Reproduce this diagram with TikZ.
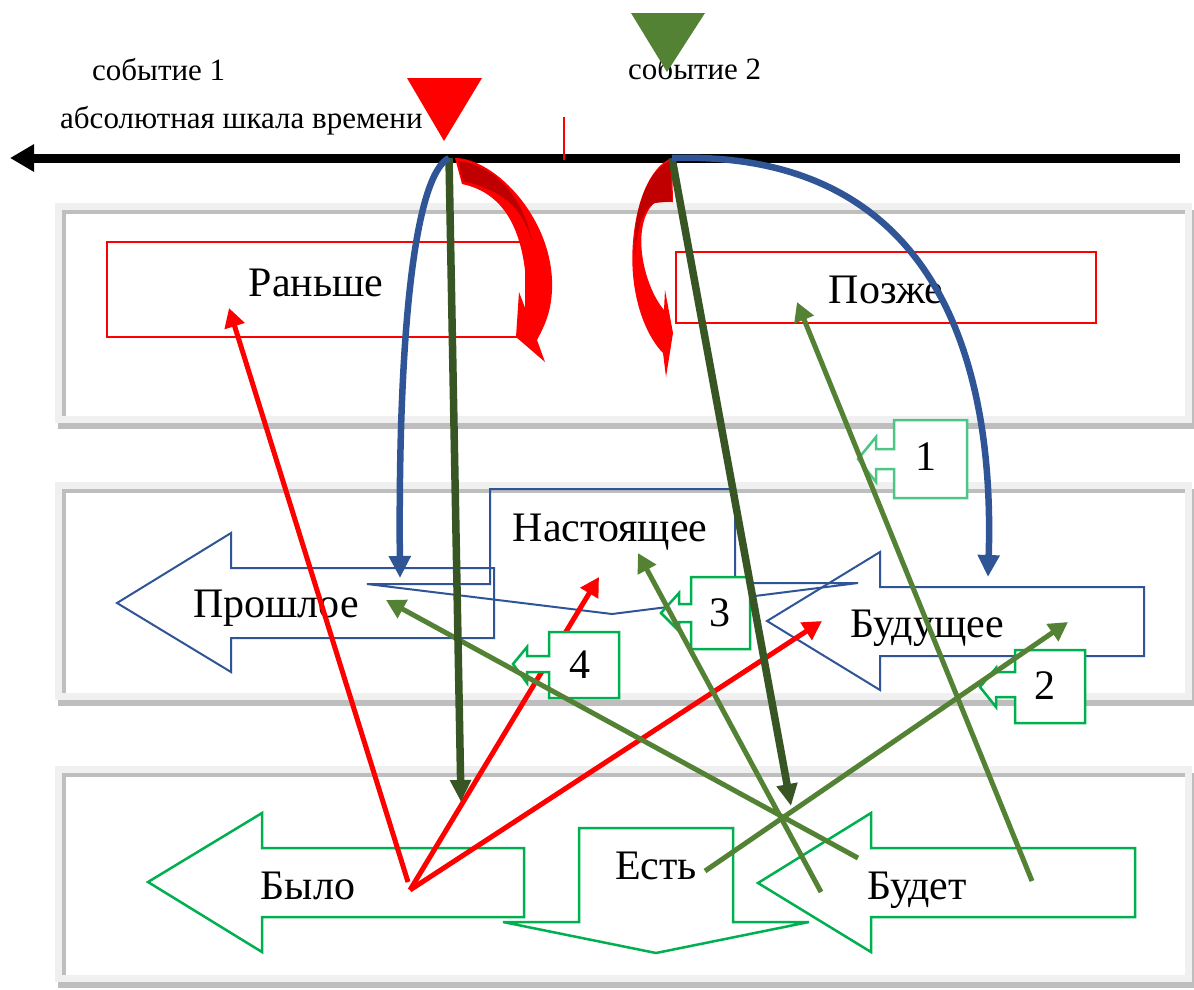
\documentclass[tikz,border=0pt]{standalone}
\usepackage{fontspec}
\setmainfont{Liberation Serif}
\usetikzlibrary{arrows.meta}

\definecolor{axisblue}{HTML}{2F5597}
\definecolor{leafdark}{HTML}{375623}
\definecolor{leaf}{HTML}{548235}
\definecolor{shapegreen}{HTML}{00B050}
\definecolor{calloutlight}{HTML}{4CC585}
\definecolor{deepred}{HTML}{C00000}
\definecolor{panellight}{HTML}{F0F0F0}
\definecolor{paneldark}{HTML}{BEBEBE}

% framed band: #1 = top edge, #2 = bottom edge
\newcommand\timepanel[2]{%
  \fill[paneldark]  (58,#1+7)  rectangle (1195,#2+6);
  \fill[panellight] (55,#1)    rectangle (1192,#2);
  \fill[paneldark]  (62,#1+7)  rectangle (1185,#2-7);
  \fill[white]      (66,#1+11) rectangle (1185,#2-7);
}

\tikzset{
  bigtext/.style={font=\fontsize{42}{50}\selectfont, inner sep=0pt, anchor=base},
  smalltext/.style={font=\fontsize{31}{37}\selectfont, inner sep=0pt, anchor=base west},
  outlineblue/.style={draw=axisblue, line width=2pt, line join=miter},
  outlinegreen/.style={draw=shapegreen, line width=2.5pt, line join=miter},
  framebox/.style={draw=red, line width=2.5pt},
  callout/.style={draw=shapegreen, fill=white, line width=2.5pt, line join=miter},
  redlink/.style={red, line width=5pt, -{Triangle[length=19pt,width=20pt]}},
  leaflink/.style={leaf, line width=5pt, -{Triangle[length=19pt,width=20pt]}},
  darklink/.style={leafdark, line width=7.5pt, -{Triangle[length=22pt,width=20pt]}},
  bluelink/.style={axisblue, line width=6.5pt, -{Triangle[length=22pt,width=21pt]}},
}

\begin{document}
\begin{tikzpicture}[x=1pt,y=-1pt]
\useasboundingbox (0,0) rectangle (1194,989);

% three framed bands
\timepanel{203}{423}
\timepanel{482}{700}
\timepanel{766}{982}

% headings and the time axis
\node[smalltext] (lab1) at (92,80) {событие 1};
\node[smalltext] (lab2) at (628,79) {событие 2};
\node[smalltext] (labaxis) at (60,128) {абсолютная шкала времени};

\coordinate (axisR) at (1180,158);
\coordinate (axisL) at (10,158);
\draw[line width=9pt, -{Triangle[length=24pt,width=26pt]}] (axisR) -- (axisL);
\coordinate (tickT) at (564,117);
\coordinate (tickB) at (564,160);
\draw[red, line width=2.5pt] (tickT) -- (tickB);

% event markers
\fill[red] (407,78) -- (482,78) -- (444,141) -- cycle;
\fill[leaf] (631,13) -- (705,13) -- (667,72) -- cycle;

% band 1: before / after
\draw[framebox] (107,242) rectangle (526,337);
\node[bigtext] (earlier) at (316,296) {Раньше};
\draw[framebox] (676,252) rectangle (1096,323);
\node[bigtext] (later) at (886,303) {Позже};

% band 2: past / present / future
\draw[outlineblue] (117,603) -- (231,533) -- (231,568) -- (494,568) -- (494,638) -- (231,638) -- (231,672) -- cycle;
\draw[outlineblue] (490,489) -- (735,489) -- (735,583) -- (858,583) -- (612,614) -- (367,584) -- (490,584) -- cycle;
\draw[outlineblue] (767,621) -- (880,552) -- (880,587) -- (1144,587) -- (1144,656) -- (880,656) -- (880,690) -- cycle;
\node[bigtext] (past) at (276,617) {Прошлое};
\node[bigtext] (present) at (610,541) {Настоящее};
\node[bigtext] (future) at (927,637) {Будущее};

% band 3: was / is / will be
\draw[outlinegreen] (148,882) -- (262,813) -- (262,848) -- (524,848) -- (524,917) -- (262,917) -- (262,952) -- cycle;
\draw[outlinegreen] (579,828) -- (733,828) -- (733,922) -- (809,922) -- (656,953) -- (503,922) -- (579,922) -- cycle;
\draw[outlinegreen] (758,883) -- (871,813) -- (871,848) -- (1135,848) -- (1135,917) -- (871,917) -- (871,952) -- cycle;
\node[bigtext] (was) at (308,899) {Было};
\node[bigtext] (is) at (656,879) {Есть};
\node[bigtext] (willbe) at (917,899) {Будет};

% red links from "Было"
\coordinate (wasA) at (408,882);
\coordinate (wasB) at (410,890);
\coordinate (toEarlier) at (229,308);
\coordinate (toPresent) at (599,577);
\coordinate (toFuture) at (822,621);
\draw[redlink] (wasA) -- (toEarlier);
\draw[redlink] (wasB) -- (toPresent);
\draw[redlink] (wasB) -- (toFuture);

% numbered callouts
\draw[callout, draw=calloutlight] (967,420) -- (894,420) -- (894,449) -- (876,449) -- (876,437) -- (858,459) -- (876,482) -- (876,469) -- (894,469) -- (894,498) -- (967,498) -- cycle;
\node[bigtext] (n1) at (926,470) {1};
\draw[callout] (1085,650) -- (1015,650) -- (1015,672) -- (996,672) -- (996,668) -- (980,687) -- (996,707) -- (996,697) -- (1015,697) -- (1015,723) -- (1085,723) -- cycle;
\node[bigtext] (n2) at (1045,699) {2};
\draw[callout] (750,577) -- (691,577) -- (691,604) -- (679,604) -- (679,593) -- (661,613) -- (679,631) -- (679,622) -- (691,622) -- (691,649) -- (750,649) -- cycle;
\node[bigtext] (n3) at (720,626) {3};
\draw[callout] (619,632) -- (549,632) -- (549,656) -- (527,656) -- (527,647) -- (513,664) -- (527,683) -- (527,672) -- (549,672) -- (549,698) -- (619,698) -- cycle;
\node[bigtext] (n4) at (580,678) {4};

% green links
\coordinate (willA) at (858,858);
\coordinate (willB) at (821,892);
\coordinate (willC) at (1032,881);
\coordinate (isA) at (705,871);
\coordinate (toPast) at (386,600);
\coordinate (toPresentB) at (638,553);
\coordinate (toFutureB) at (1068,622);
\coordinate (toLater) at (797,302);
\draw[leaflink] (willA) -- (toPast);
\draw[leaflink] (willB) -- (toPresentB);
\draw[leaflink] (isA) -- (toFutureB);
\draw[leaflink] (willC) -- (toLater);

% curved red arrows under each event
\fill[red] (455,158) .. controls (495,158) and (555,220) .. (552,290)
  .. controls (551,312) and (545,325) .. (537,340) -- (545,362) -- (516,337) -- (519,292) -- (527,313)
  .. controls (528,250) and (515,195) .. (462,184) -- cycle;
\fill[deepred] (458,161) .. controls (498,166) and (524,200) .. (532,242)
  .. controls (522,205) and (500,190) .. (463,181) -- cycle;
\fill[red] (672,158) .. controls (640,170) and (626,240) .. (635,290)
  .. controls (641,325) and (655,345) .. (663,353) -- (666,377) -- (673,333) -- (665,290) -- (664,310)
  .. controls (643,285) and (630,225) .. (655,202) -- (673,202) -- cycle;
\fill[deepred] (670,161) .. controls (645,172) and (632,215) .. (635,258)
  .. controls (637,230) and (641,210) .. (655,203) -- (672,201) -- cycle;

% event projections
\coordinate (ev1) at (449,158);
\coordinate (ev2) at (672,158);
\coordinate (dgL) at (461,802);
\coordinate (dgR) at (791,806);
\coordinate (blueL) at (400,578);
\coordinate (blueR) at (988,577);
\draw[darklink] (ev1) -- (dgL);
\draw[darklink] (ev2) -- (dgR);
\draw[bluelink] (ev1) .. controls (415,175) and (398,330) .. (blueL);
\draw[bluelink] (ev2) .. controls (935,150) and (995,360) .. (blueR);

\end{tikzpicture}
\end{document}
